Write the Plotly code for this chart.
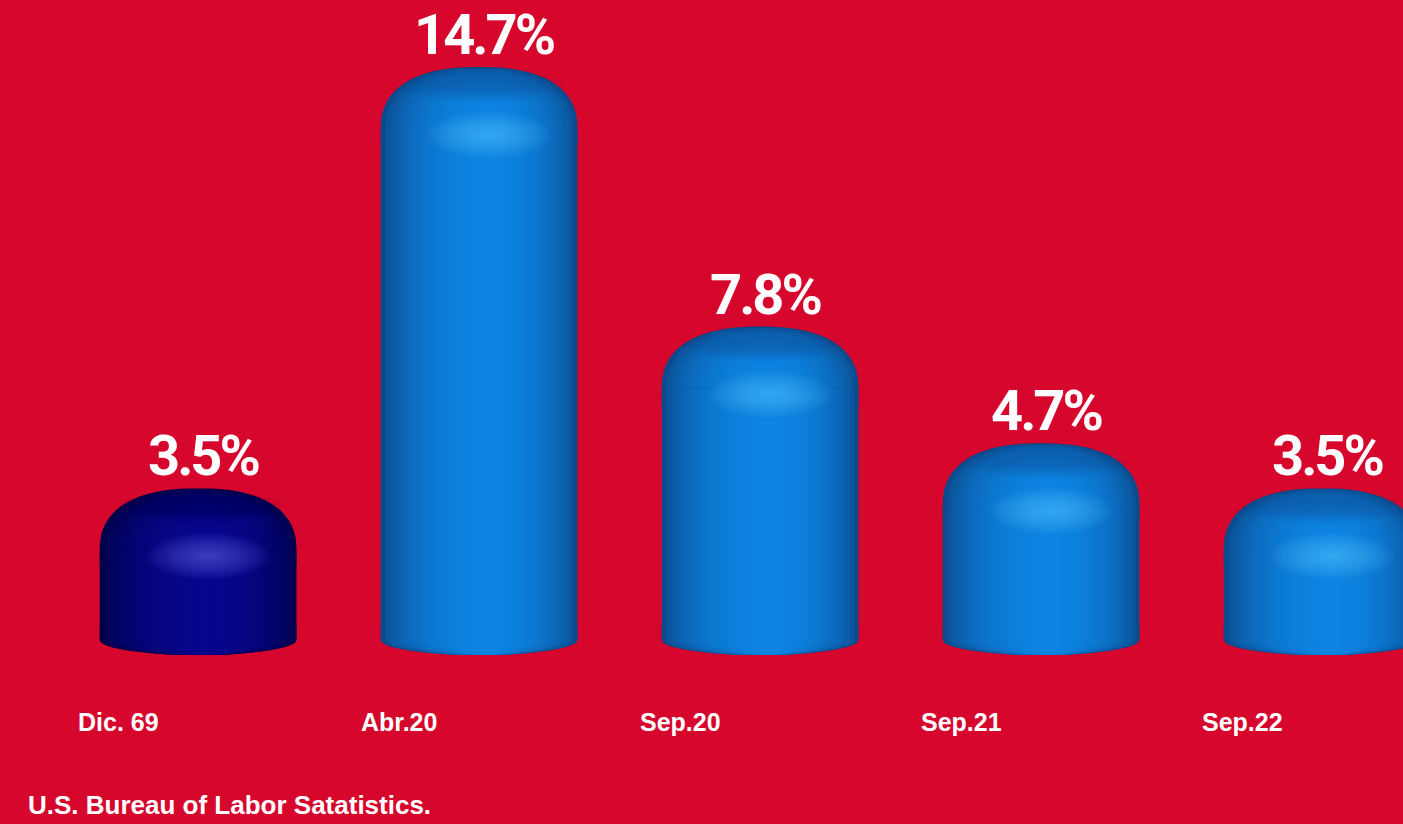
import numpy as np
import plotly.graph_objects as go

# Unemployment rate snapshots
categories = ["Dic. 69", "Abr.20", "Sep.20", "Sep.21", "Sep.22"]
values = [3.5, 14.7, 7.8, 4.7, 3.5]
value_labels = ["3.5%", "14.7%", "7.8%", "4.7%", "3.5%"]
source_text = "U.S. Bureau of Labor Satatistics."

BG = "#D7062D"
# cylinder shading per bar: (edge colour, centre colour, highlight colour)
NAVY = ("#00004a", "#06068c", "#6a6af0")
BLUE = ("#0b4a8c", "#0c84e2", "#55c4ff")
palettes = [NAVY, BLUE, BLUE, BLUE, BLUE]

BAR_W = 0.70        # full cylinder width, x units
FLOOR = -0.53       # cylinders stand slightly below the zero line
BOTTOM_RY = 0.40    # half-height of the elliptical bottom
DOME = 1.65         # height of the rounded cap
CAP_EXP = 2.4       # superellipse exponent of the cap outline
LIGHT_SHIFT = 0.035 # light falls a little right of centre
N_LAYERS = 22


def hex_rgb(h):
    h = h.lstrip("#")
    return np.array([int(h[i:i + 2], 16) for i in (0, 2, 4)], dtype=float)


def mix(c0, c1, t):
    c = hex_rgb(c0) * (1 - t) + hex_rgb(c1) * t
    return "rgb({:.0f},{:.0f},{:.0f})".format(*c)


def cap_path(cx, cy, rx, ry, upper, expo, lip, n=60):
    # superellipse half-outline; the flat side tucks `lip` into the bar body
    th = np.linspace(0, np.pi, n)
    c, s = np.cos(th), np.sin(th)
    px = cx + rx * np.sign(c) * np.abs(c) ** (2 / expo)
    py = cy + (1 if upper else -1) * ry * np.abs(s) ** (2 / expo)
    inner = cy - lip if upper else cy + lip
    px = np.concatenate([[cx + rx], px, [cx - rx]])
    py = np.concatenate([[inner], py, [inner]])
    pts = " L ".join(f"{a:.5f},{b:.5f}" for a, b in zip(px, py))
    return "M " + pts + " Z"


xs = list(range(len(categories)))
fig = go.Figure()
shapes = []

# Horizontal cylinder shading: stacked bars of shrinking width, lighter inwards
for k in range(N_LAYERS):
    u = 1.0 - k / N_LAYERS                  # relative half-width of this layer
    t = max(0.0, 1 - u * u) ** 0.7           # lambert-like falloff
    w = BAR_W * u
    shift = LIGHT_SHIFT * (1 - u)
    cols = [mix(p[0], p[1], t) for p in palettes]
    fig.add_trace(go.Bar(
        x=xs,
        y=[v - DOME - FLOOR for v in values],
        base=FLOOR,
        width=w,
        offset=-w / 2 + shift,
        marker=dict(color=cols, line=dict(width=0)),
        hoverinfo="skip",
        showlegend=False,
    ))
    for i, v, c in zip(xs, values, cols):
        # rounded cap on top and elliptical rim at the bottom, tucked under the body
        for path in (
            cap_path(i + shift, v - DOME, w / 2, DOME * u ** 0.5, True, CAP_EXP, 0.4),
            cap_path(i + shift, FLOOR, w / 2, BOTTOM_RY, False, 2.0, 0.4),
        ):
            shapes.append(dict(
                type="path", path=path, xref="x", yref="y", layer="below",
                fillcolor=c, line=dict(width=0),
            ))

for i, v, p in zip(xs, values, palettes):
    # slightly darker top surface of the cap
    for s in np.linspace(1.0, 0.4, 6):
        shapes.append(dict(
            type="circle", xref="x", yref="y", layer="above",
            x0=i + 0.01 - 0.29 * s, x1=i + 0.01 + 0.29 * s,
            y0=v - 0.5 - 0.42 * s, y1=v - 0.5 + 0.42 * s,
            fillcolor=p[0], opacity=0.06, line=dict(width=0),
        ))
    # soft highlight below it
    for s in np.linspace(1.0, 0.1, 14):
        shapes.append(dict(
            type="circle", xref="x", yref="y", layer="above",
            x0=i + LIGHT_SHIFT - 0.22 * s, x1=i + LIGHT_SHIFT + 0.22 * s,
            y0=v - 1.8 - 0.62 * s, y1=v - 1.8 + 0.62 * s,
            fillcolor=p[2], opacity=0.055, line=dict(width=0),
        ))

annotations = []
for i, v, lab in zip(xs, values, value_labels):
    annotations.append(dict(
        x=i, y=v, xref="x", yref="y",
        text='<span style="letter-spacing:-3px">' + lab + "</span>",
        showarrow=False, xanchor="center", yanchor="bottom", xshift=5, yshift=-3,
        font=dict(family="Roboto, Liberation Sans, Arial", size=56, color="white", weight="bold"),
    ))
for i, cat in zip(xs, categories):
    annotations.append(dict(
        x=i, y=0.124, xref="x", yref="paper", text=cat, showarrow=False,
        xanchor="center", yanchor="middle", xshift=-80,
        font=dict(family="Liberation Sans, Arial", size=25, color="white", weight="bold"),
    ))
annotations.append(dict(
    x=0.0185, y=0.023, xref="paper", yref="paper", text=source_text, showarrow=False,
    xanchor="left", yanchor="middle",
    font=dict(family="Liberation Sans, Arial", size=26, color="white", weight="bold"),
))

fig.update_layout(
    width=1403, height=824,
    margin=dict(l=0, r=0, t=0, b=0),
    paper_bgcolor=BG, plot_bgcolor=BG,
    barmode="overlay",
    xaxis=dict(range=[-0.705, 4.288], visible=False, fixedrange=True),
    yaxis=dict(range=[-5.42, 16.48], visible=False, fixedrange=True),
    shapes=shapes,
    annotations=annotations,
    showlegend=False,
)

fig.write_html("out.html")
